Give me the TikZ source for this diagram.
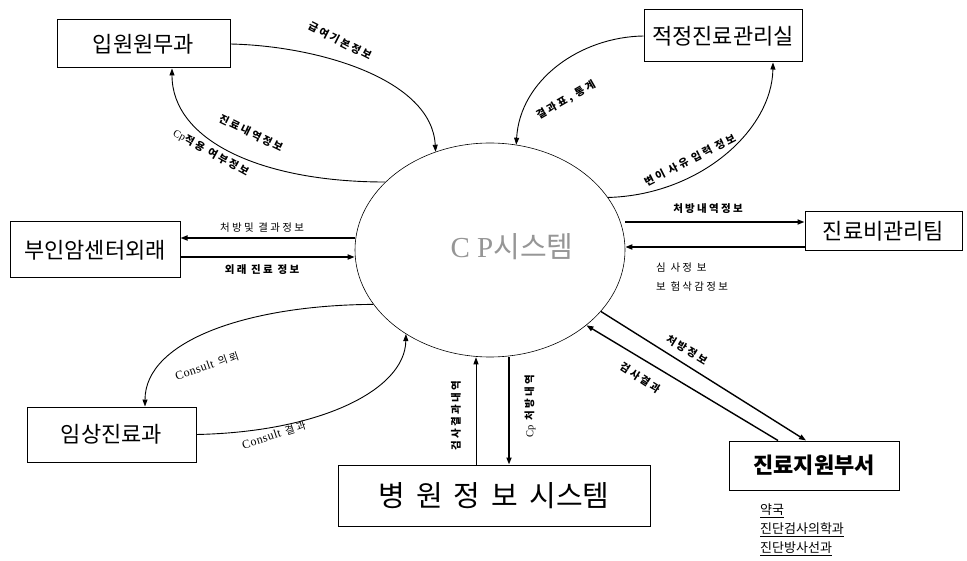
\documentclass[tikz,border=0pt]{standalone}
\usepackage{fontspec}
\setmainfont{Noto Sans CJK KR}
\newfontfamily\krsp{Noto Sans CJK KR}[LetterSpace=22]
\newfontfamily\serifrm{Liberation Serif}
\newfontfamily\serifsp{Liberation Serif}[LetterSpace=4]
\usetikzlibrary{shapes.geometric,arrows.meta}
\definecolor{cpgray}{RGB}{150,150,150}
\begin{document}
\begin{tikzpicture}[x=1pt,y=-1pt,
  box/.style={draw,line width=1pt,inner sep=0pt,font=\fontsize{22}{24}\selectfont},
  arr/.style={-{Triangle[length=7pt,width=5pt]},line width=0.9pt},
  tarr/.style={-{Triangle[length=7pt,width=5pt]},line width=1.6pt},
  lbl/.style={font=\krsp\fontsize{10.5}{11}\selectfont\bfseries,inner sep=0pt},
  lbln/.style={font=\krsp\fontsize{10.5}{11}\selectfont,inner sep=0pt},
  sub/.style={font=\fontsize{13}{14}\selectfont,inner sep=0pt,anchor=west}]
\useasboundingbox[fill=white] (0,0) rectangle (967,561);

% central process
\node[ellipse,draw,line width=0.6pt,minimum width=270,minimum height=214,inner sep=0pt] (cp) at (490,250) {};
\node[text=cpgray,font=\fontsize{29}{30}\selectfont,inner sep=0pt] (cpt) at (512,247) {{\serifrm C P}시스템};

% external entities
\node[box,minimum width=173,minimum height=48] (ip) at (143.5,44) {입원원무과};
\node[box,minimum width=158,minimum height=52] (aj) at (723,36) {적정진료관리실};
\node[box,minimum width=170,minimum height=56] (pw) at (95,250) {부인암센터외래};
\node[box,minimum width=157,minimum height=39] (jb) at (883.5,231.5) {진료비관리팀};
\node[box,minimum width=169,minimum height=55] (im) at (111.5,434.5) {임상진료과};
\node[box,minimum width=312,minimum height=61,font=\fontsize{29}{30}\selectfont] (his) at (494,495.5)
  {병\hspace{11pt}원\hspace{11pt}정\hspace{11pt}보\hspace{11pt}시스템};
\node[box,minimum width=170,minimum height=49,font=\fontsize{22}{24}\selectfont\bfseries] (jw) at (814,465.5) {진료지원부서};

% sub text
\node[sub] (s1) at (760,511) {\underline{약국}};
\node[sub] (s2) at (760,530) {\underline{진단검사의학과}};
\node[sub] (s3) at (760,549) {\underline{진단방사선과}};

% 입원원무과
\draw[arr] (ip.east) .. controls (320,46) and (432,80) .. (cp.119);
\draw[arr] (cp.147) .. controls (260,182) and (172,140) .. ([xshift=28.5]ip.south);
\node[lbl,rotate=-27] (l1) at (340,41) {급여기본정보};
\node[lbl,rotate=-26] (l2) at (251,133) {진료내역정보};
\node[lbl,rotate=-29] (l3) at (211,153) {{\serifsp\mdseries Cp}적용 여부정보};

% 적정진료관리실
\draw[arr] (aj.west) .. controls (580,37) and (520,80) .. (cp.76);
\draw[arr] (cp.24) .. controls (700,195) and (772,130) .. ([xshift=50]aj.south);
\node[lbl,rotate=30] (l4) at (566,100) {결과표, 통계};
\node[lbl,rotate=27] (l5) at (690,160) {변이 사유 입력 정보};

% 부인암센터외래
\draw[tarr] (cp.west |- 0,238) -- (pw.east |- 0,238);
\draw[tarr] (pw.east |- 0,257) -- (cp.west |- 0,257);
\node[lbln] (l6) at (262,228) {처방및 결과정보};
\node[lbl] (l7) at (262,270) {외래 진료 정보};

% 진료비관리팀
\draw[tarr] (cp.east |- 0,222) -- (jb.west |- 0,222);
\draw[tarr] (jb.west |- 0,247) -- (cp.east |- 0,247);
\node[lbl] (l8) at (708,209) {처방내역정보};
\node[lbln,anchor=west] (l9) at (656,268) {심 사정 보};
\node[lbln,anchor=west] (l10) at (656,287) {보 험삭감정보};

% 임상진료과
\draw[arr] (cp.205) .. controls (250,305) and (145,340) .. ([xshift=33.5]im.north);
\draw[arr] (im.east) .. controls (320,432) and (405,390) .. (cp.225);
\node[lbln,rotate=19] (l11) at (207,366) {{\serifsp\fontsize{12}{12}\selectfont Consult} 의뢰};
\node[lbln,rotate=18] (l12) at (274,435) {{\serifsp\fontsize{12}{12}\selectfont Consult} 결과};

% 병원정보시스템
\draw[arr] ([xshift=-18]his.north) -- ([xshift=-14]cp.south);
\draw[tarr] ([xshift=19]cp.south) -- ([xshift=15]his.north);
\node[lbl,rotate=90] (l13) at (456,416) {검사결과내역};
\node[lbl,rotate=90] (l14) at (530,406) {{\serifsp\mdseries Cp} 처방내역};

% 진료지원부서
\draw[tarr,line width=1.4pt] (cp.331) -- ([xshift=-8]jw.north);
\draw[tarr,line width=1.4pt] ([xshift=-36]jw.north) -- (cp.322);
\node[lbl,rotate=-31] (l15) at (687,350) {처방정보};
\node[lbl,rotate=-33] (l16) at (640,378) {검사결과};
\end{tikzpicture}
\end{document}
